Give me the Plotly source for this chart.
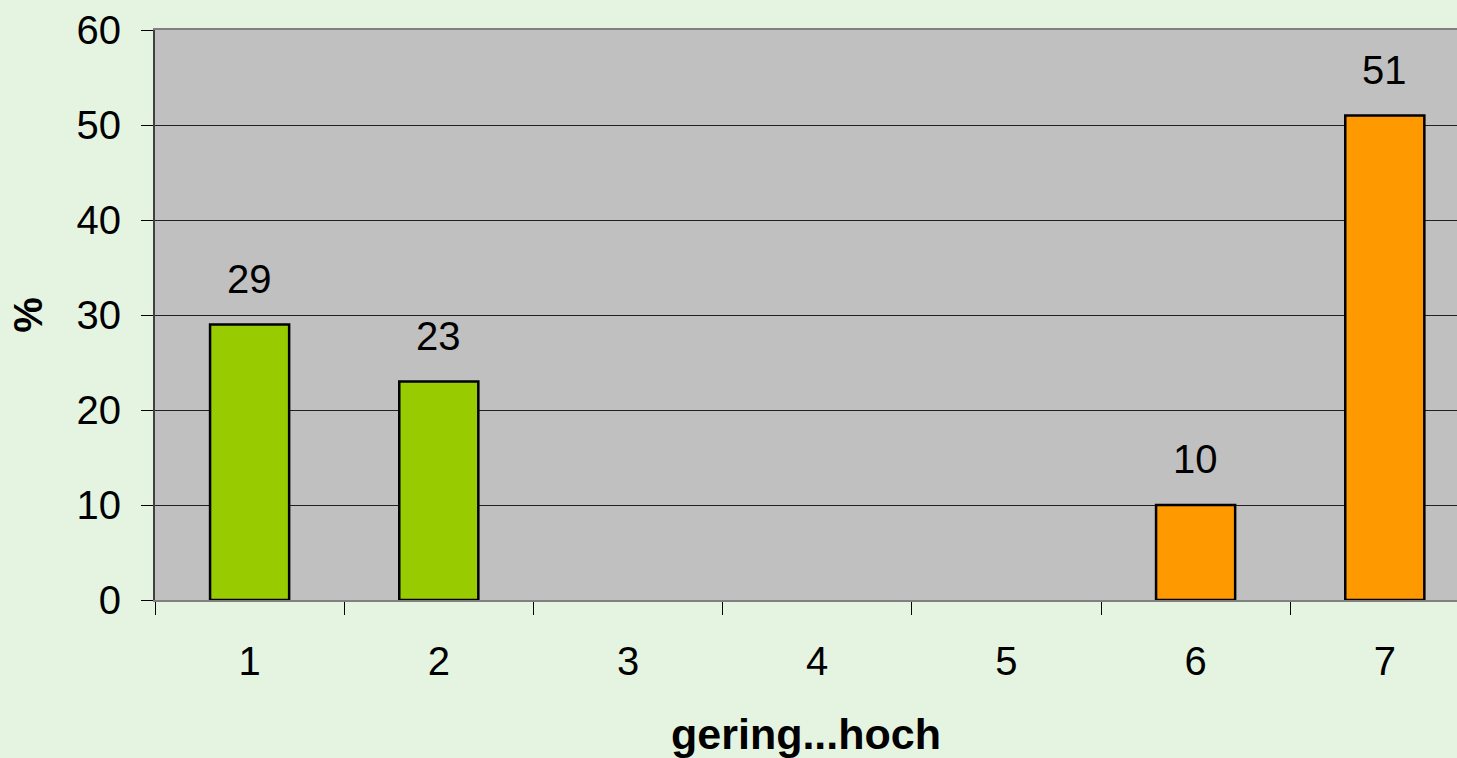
import plotly.graph_objects as go

categories = ["1", "2", "3", "4", "5", "6", "7"]
values = [29, 23, 0, 0, 0, 10, 51]
bar_colors = ["#99CC00", "#99CC00", "#99CC00", "#99CC00", "#FF9900", "#FF9900", "#FF9900"]
y_ticks = [0, 10, 20, 30, 40, 50, 60]

FONT = "Liberation Sans, Arial, sans-serif"

plot_y = [v if v != 0 else None for v in values]

fig = go.Figure()
fig.add_trace(go.Bar(
    x=categories, y=plot_y,
    marker=dict(color=bar_colors, line=dict(color="#000000", width=2.5)),
    width=0.418,
    hoverinfo="x+y",
))

for i, v in enumerate(values):
    if v != 0:
        fig.add_annotation(x=i, y=v, text=str(v), showarrow=False,
                           yanchor="middle", yshift=46,
                           font=dict(family=FONT, size=40, color="#000000"))

fig.update_layout(
    width=1457, height=758,
    margin=dict(l=155, r=0, t=30, b=158),
    paper_bgcolor="#E5F4E1",
    plot_bgcolor="#C0C0C0",
    showlegend=False,
    font=dict(family=FONT, size=40, color="#000000"),
    xaxis=dict(
        type="category",
        categoryorder="array", categoryarray=categories,
        range=[-0.5, -0.5 + (1457 - 155) / 189.2],
        tickson="boundaries",
        ticks="outside", ticklen=13, tickcolor="#000000", tickwidth=1,
        showline=True, linecolor="#808080", linewidth=2, mirror=True,
        showgrid=False,
        ticklabelstandoff=25,
        tickfont=dict(family=FONT, size=40),
        title=dict(text="<b>gering...hoch</b>", font=dict(family=FONT, size=43), standoff=38),
    ),
    yaxis=dict(
        range=[0, 60],
        tickvals=y_ticks,
        ticks="outside", ticklen=12, tickcolor="#000000", tickwidth=1,
        showline=True, linecolor="#404040", linewidth=2,
        showgrid=True, gridcolor="#202020", gridwidth=1,
        zeroline=False,
        ticklabelstandoff=12,
        tickfont=dict(family=FONT, size=40),
        title=dict(text="<b>%</b>", font=dict(family=FONT, size=40), standoff=22),
    ),
)

fig.write_html("out.html", config={"displayModeBar": False},
               post_script="document.body.style.margin='0';")
